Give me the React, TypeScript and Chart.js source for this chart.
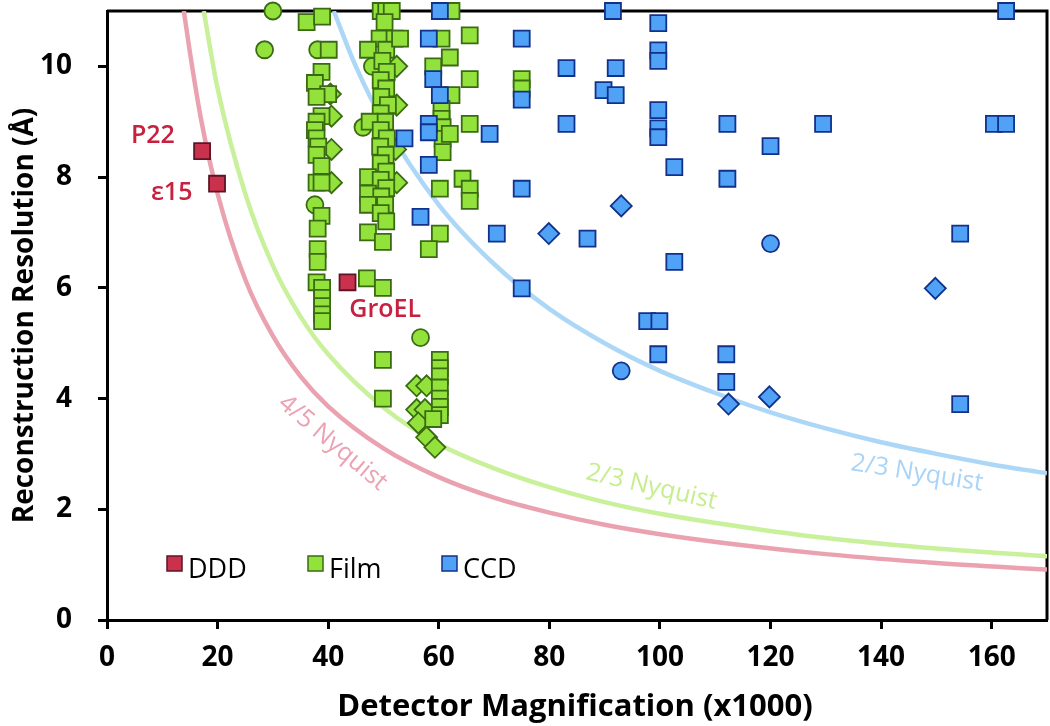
import React, { useEffect, useRef } from 'react';
import { Chart, registerables } from 'chart.js';

Chart.register(...registerables);

const FONT = '"Open Sans", "DejaVu Sans", sans-serif';

// Axis ticks
const xTicks = [0, 20, 40, 60, 80, 100, 120, 140, 160];
const yTicks = [0, 2, 4, 6, 8, 10];

// DDD (squares)
const dddX = [17.2, 19.9, 43.5];
const dddY = [8.47, 7.88, 6.1];

// Film squares
const filmSqX = [
  36.1, 38.9, 40.1, 38.8, 37.6, 40.0, 37.9, 38.8, 37.9, 37.6, 37.9, 38.2, 37.9, 38.8, 37.9, 38.8, 38.8, 38.1, 38.1, 38.1, 37.9, 38.9, 38.9, 38.9, 38.9, 38.9,
  49.5, 50.5, 51.5, 50.2, 49.3, 52.0, 50.5, 47.2, 49.8, 50.6, 49.5, 50.5, 49.6, 50.8, 49.5, 50.3, 47.5, 49.5, 50.6, 49.4, 50.4, 49.5, 50.5, 47.2, 49.5, 50.5, 47.2, 49.6, 50.3, 47.2, 49.5, 50.5, 47.2, 49.9, 47.0, 49.9, 49.9, 49.9, 53.0,
  62.3, 60.5, 65.6, 62.0, 59.0, 65.6, 75.0, 75.0, 62.3, 60.5, 60.5, 60.7, 60.7, 60.7, 62.0, 65.6, 64.3, 65.6, 65.6, 60.2, 60.2, 58.2,
  60.2, 60.2, 60.2, 60.2, 60.2, 60.2, 60.2, 59.0,
];
const filmSqY = [
  10.8, 10.9, 10.3, 9.9, 9.7, 9.5, 9.45, 9.1, 9.0, 8.85, 8.7, 8.55, 8.4, 8.2, 7.9, 7.9, 7.3, 7.07, 6.7, 6.47, 6.1, 6.0, 5.82, 5.67, 5.52, 5.4,
  11.0, 11.0, 11.0, 10.8, 10.5, 10.5, 10.3, 10.3, 10.1, 9.9, 9.75, 9.6, 9.45, 9.3, 9.15, 9.0, 9.0, 8.85, 8.7, 8.55, 8.4, 8.25, 8.1, 8.0, 7.95, 7.8, 7.7, 7.65, 7.5, 7.5, 7.35, 7.2, 7.0, 6.83, 6.17, 6.0, 4.7, 4.0, 10.5,
  11.0, 10.5, 10.56, 10.16, 10.0, 9.77, 9.77, 9.6, 9.48, 9.23, 9.05, 8.9, 8.69, 8.45, 8.78, 8.96, 7.97, 7.79, 7.57, 7.79, 6.98, 6.7,
  4.7, 4.55, 4.4, 4.2, 4.0, 3.85, 3.7, 3.63,
];

// Film circles
const filmCirX = [30.0, 28.5, 38.1, 37.6, 48.0, 46.3, 56.7];
const filmCirY = [11.0, 10.3, 10.3, 7.5, 10.0, 8.9, 5.1];

// Film diamonds
const filmDiaX = [40.4, 40.6, 40.6, 40.6, 52.4, 52.4, 52.2, 52.4, 56.0, 57.8, 56.0, 57.5, 56.3, 57.8, 59.3];
const filmDiaY = [9.5, 9.1, 8.5, 7.9, 10.0, 9.3, 8.5, 7.9, 4.23, 4.23, 3.8, 3.8, 3.56, 3.3, 3.12];

// CCD squares
const ccdSqX = [
  60.2, 91.5, 162.6, 58.2, 75.0, 99.7, 99.7, 99.7, 83.1, 92.0, 59.0, 75.0, 89.8, 92.0, 60.2, 58.2, 58.2, 53.8, 69.2, 83.1,
  99.7, 99.7, 99.7, 112.2, 129.5, 160.4, 162.6, 120.0, 102.6, 112.2, 58.2, 75.0, 56.7, 70.5, 86.9, 102.6, 154.3, 75.0,
  97.7, 99.9, 99.7, 112.0, 112.0, 154.3,
];
const ccdSqY = [
  11.0, 11.0, 11.0, 10.5, 10.5, 10.78, 10.29, 10.1, 9.97, 9.97, 9.77, 9.4, 9.57, 9.48, 9.48, 8.96, 8.81, 8.7, 8.78, 8.96,
  9.21, 8.88, 8.72, 8.96, 8.96, 8.96, 8.96, 8.56, 8.18, 7.97, 8.22, 7.79, 7.28, 6.98, 6.89, 6.47, 6.98, 5.99,
  5.4, 5.4, 4.8, 4.8, 4.3, 3.9,
];

// CCD circles
const ccdCirX = [120.0, 93.0];
const ccdCirY = [6.8, 4.5];

// CCD diamonds
const ccdDiaX = [79.9, 93.0, 149.8, 112.4, 119.8];
const ccdDiaY = [6.98, 7.48, 5.99, 3.9, 4.03];

// Nyquist curves
const pinkX = [13.9, 15, 17, 20, 25, 30, 35, 40, 50, 60, 70, 80, 90, 100, 115, 130, 150, 170];
const pinkY = [11.0, 10.25, 9.05, 7.7, 6.15, 5.13, 4.4, 3.86, 3.1, 2.58, 2.21, 1.94, 1.72, 1.55, 1.35, 1.19, 1.03, 0.91];
const greenX = [17.5, 20, 25, 30, 35, 40, 50, 60, 70, 80, 90, 100, 115, 130, 150, 170];
const greenY = [11.0, 9.6, 7.7, 6.4, 5.48, 4.8, 3.84, 3.18, 2.74, 2.4, 2.13, 1.92, 1.68, 1.48, 1.29, 1.15];
const blueX = [41, 45, 50, 60, 70, 80, 90, 100, 110, 120, 130, 140, 150, 160, 170];
const blueY = [11.0, 10.0, 9.0, 7.5, 6.43, 5.62, 5.0, 4.5, 4.1, 3.75, 3.46, 3.21, 3.0, 2.81, 2.65];

// Legend
const legendLabels = ['DDD', 'Film', 'CCD'];

// Text annotations (anchored in data space)
const nameLabels = ['P22', 'ε15', 'GroEL'];
const nameX = [8.3, 11.7, 50.3];
const nameY = [8.74, 7.72, 5.6];
const curveLabels = ['4/5 Nyquist', '2/3 Nyquist', '2/3 Nyquist'];
const curveLabelX = [40.8, 98.5, 146.5];
const curveLabelY = [3.2, 2.4, 2.65];
const curveLabelAngle = [40, 13, 9];

const COL = {
  redFill: '#c9314d',
  redBorder: '#5e1425',
  greenFill: '#93e23c',
  greenBorder: '#3a6b12',
  blueFill: '#4fa2f6',
  blueBorder: '#12318a',
  pinkLine: '#eaa2b0',
  greenLine: '#c9f09a',
  blueLine: '#acd7f7',
  labelRed: '#c7213f',
};

const pts = (xs: number[], ys: number[]) => xs.map((x, i) => ({ x, y: ys[i] }));

const marker = (label: string, xs: number[], ys: number[], style: string, fill: string, border: string, radius: number, order: number) => ({
  label,
  data: pts(xs, ys),
  pointStyle: style,
  pointRadius: radius,
  pointBackgroundColor: fill,
  pointBorderColor: border,
  pointBorderWidth: 1.8,
  showLine: false,
  clip: false as any,
  order,
});

const curve = (label: string, xs: number[], ys: number[], color: string) => ({
  label,
  data: pts(xs, ys),
  showLine: true,
  borderColor: color,
  borderWidth: 4.5,
  pointRadius: 0,
  cubicInterpolationMode: 'monotone' as const,
  order: 20,
});

const overlay = {
  id: 'overlay',
  beforeDatasetsDraw(chart: any) {
    const { ctx, chartArea } = chart;
    ctx.save();
    ctx.strokeStyle = '#000';
    ctx.lineWidth = 3;
    ctx.beginPath();
    ctx.moveTo(chartArea.left, chartArea.top);
    ctx.lineTo(chartArea.right, chartArea.top);
    ctx.lineTo(chartArea.right, chartArea.bottom);
    ctx.stroke();
    ctx.restore();
  },
  afterDatasetsDraw(chart: any) {
    const { ctx, chartArea, scales } = chart;
    const xs = scales.x;
    const ys = scales.y;
    ctx.save();
    // curve labels
    const curveColors = ['#eba3b3', '#c6ee8f', '#a8d4f8'];
    curveLabels.forEach((t, i) => {
      ctx.save();
      ctx.translate(xs.getPixelForValue(curveLabelX[i]), ys.getPixelForValue(curveLabelY[i]));
      ctx.rotate((curveLabelAngle[i] * Math.PI) / 180);
      ctx.font = `400 25px ${FONT}`;
      ctx.fillStyle = curveColors[i];
      ctx.textAlign = 'center';
      ctx.textBaseline = 'middle';
      ctx.fillText(t, 0, 0);
      ctx.restore();
    });
    // name labels
    ctx.font = `600 25px ${FONT}`;
    ctx.fillStyle = COL.labelRed;
    ctx.textAlign = 'center';
    ctx.textBaseline = 'middle';
    nameLabels.forEach((t, i) => {
      ctx.fillText(t, xs.getPixelForValue(nameX[i]), ys.getPixelForValue(nameY[i]));
    });
    // legend
    const fills = [COL.redFill, COL.greenFill, COL.blueFill];
    const borders = [COL.redBorder, COL.greenBorder, COL.blueBorder];
    const legendLeft = [chartArea.left + 60, chartArea.left + 201, chartArea.left + 335];
    const legendY = chartArea.bottom - 63;
    ctx.font = `400 27px ${FONT}`;
    ctx.fillStyle = '#000';
    ctx.textAlign = 'left';
    ctx.textBaseline = 'alphabetic';
    legendLabels.forEach((t, i) => {
      ctx.fillStyle = fills[i];
      ctx.strokeStyle = borders[i];
      ctx.lineWidth = 1.5;
      ctx.fillRect(legendLeft[i], legendY - 1, 15, 15);
      ctx.strokeRect(legendLeft[i], legendY - 1, 15, 15);
      ctx.fillStyle = '#000';
      ctx.fillText(t, legendLeft[i] + 21, legendY + 21);
    });
    // axis titles
    ctx.font = `700 31px ${FONT}`;
    ctx.textAlign = 'center';
    ctx.fillText('Detector Magnification (x1000)', (chartArea.left + chartArea.right) / 2 - 2, 716);
    ctx.save();
    ctx.translate(33, (chartArea.top + chartArea.bottom) / 2);
    ctx.rotate(-Math.PI / 2);
    ctx.font = `700 28px ${FONT}`;
    ctx.fillText('Reconstruction Resolution (Å)', 0, 0);
    ctx.restore();
    ctx.restore();
  },
};

const zeroPad = (s: any) => {
  s.paddingTop = 0;
  s.paddingBottom = 0;
  s.paddingLeft = 0;
  s.paddingRight = 0;
};

export default function App() {
  const ref = useRef<HTMLCanvasElement>(null);
  useEffect(() => {
    document.body.style.margin = '0';
    const canvas = ref.current;
    if (!canvas) return;
    const tickFont = { family: FONT, size: 28, weight: 'bold' as const };
    const chart = new Chart(canvas, {
      type: 'scatter',
      data: {
        datasets: [
          marker('DDD', dddX, dddY, 'rect', COL.redFill, COL.redBorder, 11.3, 0),
          marker('CCD', ccdSqX, ccdSqY, 'rect', COL.blueFill, COL.blueBorder, 11.3, 1),
          marker('CCD circles', ccdCirX, ccdCirY, 'circle', COL.blueFill, COL.blueBorder, 8.5, 1),
          marker('CCD diamonds', ccdDiaX, ccdDiaY, 'rectRot', COL.blueFill, COL.blueBorder, 10.5, 1),
          marker('Film', filmSqX, filmSqY, 'rect', COL.greenFill, COL.greenBorder, 11.3, 3),
          marker('Film circles', filmCirX, filmCirY, 'circle', COL.greenFill, COL.greenBorder, 8.5, 4),
          marker('Film diamonds', filmDiaX, filmDiaY, 'rectRot', COL.greenFill, COL.greenBorder, 10.5, 4),
          curve('4/5 Nyquist', pinkX, pinkY, COL.pinkLine),
          curve('2/3 Nyquist (Film)', greenX, greenY, COL.greenLine),
          curve('2/3 Nyquist (CCD)', blueX, blueY, COL.blueLine),
        ] as any,
      },
      options: {
        responsive: false,
        animation: false,
        devicePixelRatio: 1,
        layout: { autoPadding: false, padding: { top: 11, right: 3, left: 0, bottom: 0 } },
        plugins: { legend: { display: false }, tooltip: { enabled: false } },
        scales: {
          x: {
            type: 'linear',
            min: 0,
            max: 170,
            afterFit: (s: any) => { s.height = 106; zeroPad(s); },
            afterBuildTicks: (s: any) => { s.ticks = xTicks.map((v) => ({ value: v })); },
            ticks: { color: '#000', font: tickFont, padding: 12, maxRotation: 0, autoSkip: false, includeBounds: false },
            grid: { drawOnChartArea: false, drawTicks: true, tickLength: 9, tickWidth: 3, tickColor: '#000' },
            border: { display: true, color: '#000', width: 3 },
          },
          y: {
            type: 'linear',
            min: 0,
            max: 11,
            afterFit: (s: any) => { s.width = 107; zeroPad(s); },
            afterBuildTicks: (s: any) => { s.ticks = yTicks.map((v) => ({ value: v })); },
            ticks: { color: '#000', font: tickFont, padding: 26, autoSkip: false, includeBounds: false },
            grid: { drawOnChartArea: false, drawTicks: true, tickLength: 9, tickWidth: 3, tickColor: '#000' },
            border: { display: true, color: '#000', width: 3 },
          },
        },
      } as any,
      plugins: [overlay],
    });
    return () => chart.destroy();
  }, []);
  return (
    <div style={{ width: 1050, height: 726 }}>
      <canvas ref={ref} width={1050} height={726} style={{ display: 'block' }} />
    </div>
  );
}
